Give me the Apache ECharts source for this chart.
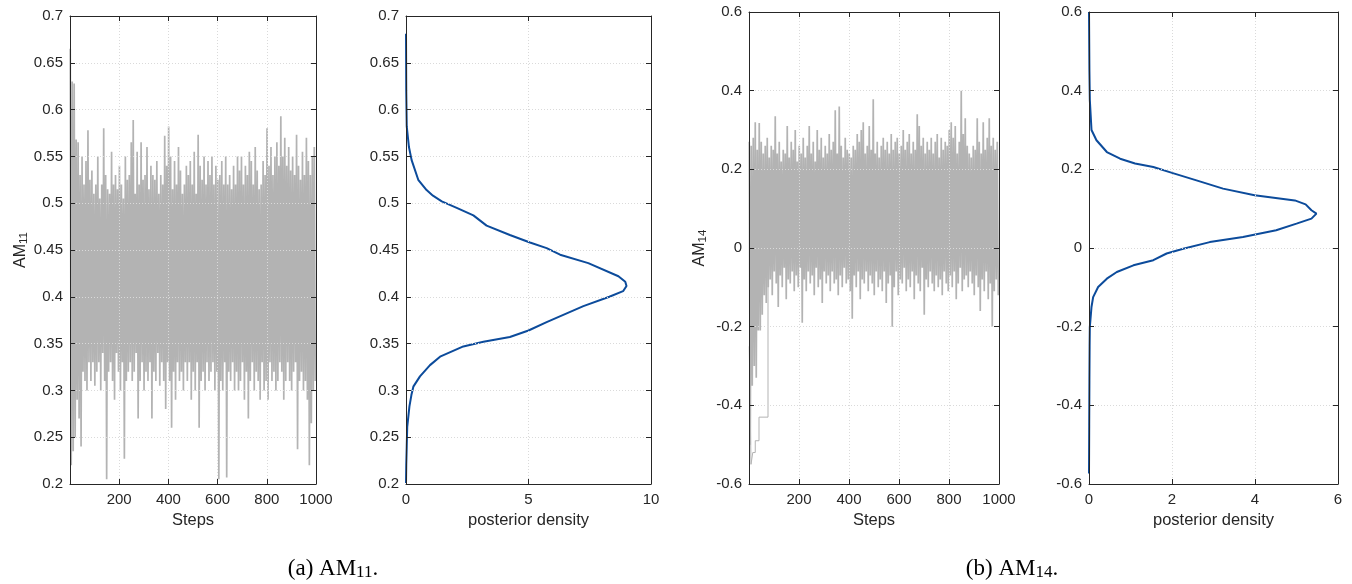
<!DOCTYPE html>
<html>
<head>
<meta charset="utf-8">
<script src="https://cdn.jsdelivr.net/npm/echarts@6/dist/echarts.min.js"></script>
<style>
html,body{margin:0;padding:0;background:#fff;}
#chart{width:1352px;height:584px;}
</style>
</head>
<body>
<div id="chart"></div>
<script>
// ---- data ----
// MCMC trace of AM11 (one sample every 4 steps)
const am11Trace = [
.665,.22,.63,.235,.628,.25,.568,.29,.565,.27,.53,.24,.55,.32,.52,.31,.545,.30,.578,.33,
.525,.31,.535,.33,.51,.305,.52,.32,.55,.33,.505,.30,.52,.34,.58,.31,.53,.205,.515,.32,
.51,.33,.555,.31,.52,.29,.53,.34,.515,.32,.54,.30,.52,.33,.505,.227,.55,.31,.525,.32,
.53,.33,.565,.31,.589,.32,.51,.34,.555,.27,.52,.31,.565,.33,.525,.30,.53,.32,.56,.31,
.515,.33,.54,.27,.53,.32,.525,.31,.545,.34,.51,.305,.53,.33,.52,.31,.572,.28,.54,.33,
.582,.31,.55,.26,.515,.32,.545,.29,.52,.33,.56,.31,.535,.32,.51,.30,.52,.33,.54,.31,
.53,.33,.545,.29,.52,.32,.555,.30,.51,.33,.573,.26,.54,.31,.525,.32,.55,.30,.52,.33,
.545,.31,.53,.32,.55,.33,.52,.30,.54,.32,.525,.205,.53,.31,.545,.30,.52,.33,.55,.207,
.52,.32,.53,.31,.515,.33,.54,.30,.52,.32,.55,.30,.535,.31,.55,.33,.52,.29,.54,.32,
.53,.27,.555,.31,.545,.33,.52,.30,.56,.32,.535,.31,.515,.29,.52,.33,.545,.30,.53,.31,
.58,.29,.54,.33,.56,.31,.53,.32,.55,.30,.565,.31,.54,.33,.593,.32,.55,.29,.57,.31,
.54,.33,.56,.31,.535,.30,.55,.32,.53,.33,.573,.237,.54,.31,.525,.32,.555,.30,.53,.31,
.57,.29,.545,.22,.53,.265,.55,.30,.56,.31
];
// MCMC trace of AM14 (one sample every 4 steps)
const am14Trace = [
.27,-.50,.26,-.35,.28,-.30,.32,-.33,.25,-.21,.318,-.21,.27,-.17,.24,-.12,.26,-.14,.28,-.10,
.23,-.08,.26,-.12,.25,-.06,.335,-.09,.24,-.15,.27,-.07,.22,-.10,.25,-.05,.24,-.13,.31,-.08,
.23,-.09,.27,-.06,.25,-.11,.30,-.07,.22,-.10,.26,-.05,.24,-.19,.28,-.08,.23,-.11,.26,-.06,
.31,-.09,.24,-.07,.27,-.12,.22,-.05,.30,-.10,.25,-.08,.28,-.14,.23,-.06,.26,-.09,.24,-.07,
.29,-.11,.25,-.06,.27,-.09,.35,-.08,.24,-.12,.36,-.07,.26,-.10,.23,-.05,.28,-.09,.25,-.08,
.24,-.11,.23,-.18,.26,-.07,.25,-.10,.29,-.06,.27,-.13,.30,-.08,.32,-.09,.24,-.06,.26,-.11,
.31,-.07,.25,-.09,.378,-.12,.24,-.06,.27,-.10,.23,-.08,.26,-.11,.28,-.06,.25,-.14,.27,-.09,
.24,-.07,.29,-.20,.25,-.10,.27,-.06,.28,-.12,.24,-.08,.26,-.09,.30,-.05,.25,-.11,.27,-.08,
.29,-.10,.24,-.06,.27,-.13,.25,-.07,.34,-.09,.31,-.11,.26,-.05,.28,-.17,.24,-.08,.27,-.10,
.25,-.06,.28,-.09,.24,-.11,.27,-.07,.29,-.10,.23,-.08,.28,-.12,.25,-.06,.27,-.09,.26,-.11,
.30,-.07,.32,-.10,.28,-.06,.31,-.13,.24,-.09,.27,-.05,.40,-.11,.29,-.08,.33,-.07,.26,-.10,
.24,-.06,.23,-.09,.26,-.12,.25,-.07,.33,-.10,.27,-.16,.24,-.08,.32,-.11,.25,-.06,.28,-.13,
.33,-.09,.26,-.20,.28,-.11,.25,-.08,.27,-.12
];
// burn-in chain of AM14 (stuck low at the start)
const am14BurnSteps = [1, 8, 15, 25, 40, 76];
const am14BurnVals  = [-0.25, -0.55, -0.52, -0.49, -0.43, -0.06];

// posterior densities: parameter value and density
const am11DensY = [0.201,0.22,0.24,0.261,0.283,0.295,0.304,0.315,0.327,0.336,0.347,0.352,0.357,0.364,0.373,0.39,0.40,0.406,0.4115,0.416,0.422,0.436,0.445,0.452,0.458,0.466,0.476,0.487,0.495,0.502,0.508,0.514,0.525,0.546,0.56,0.582,0.62,0.681];
const am11DensX = [0,0.01,0.03,0.05,0.14,0.22,0.30,0.57,0.98,1.39,2.34,3.16,4.24,5.0,5.74,7.24,8.3,8.86,9.0,8.95,8.67,7.44,6.29,5.74,5.06,4.24,3.29,2.75,2.07,1.46,1.1,0.84,0.5,0.23,0.12,0.03,0.01,0];
const am14DensY = [-0.573,-0.45,-0.337,-0.25,-0.201,-0.175,-0.15,-0.125,-0.099,-0.078,-0.061,-0.044,-0.031,-0.014,-0.002,0.015,0.028,0.045,0.062,0.0747,0.0875,0.096,0.111,0.121,0.134,0.151,0.172,0.191,0.206,0.215,0.227,0.244,0.274,0.30,0.376,0.45,0.6];
const am14DensX = [0,0.005,0.01,0.015,0.02,0.04,0.06,0.10,0.22,0.43,0.67,1.07,1.55,1.87,2.27,2.91,3.71,4.51,5.0,5.36,5.48,5.36,5.22,4.96,3.99,3.23,2.59,2.0,1.55,1.11,0.75,0.43,0.18,0.06,0.02,0.01,0];

const stepLabel = 'Steps';
const densLabel = 'posterior density';

// ---- chart ----
const FONT = 'Liberation Sans';
const TXT = '#262626';
const stepOf = i => 1 + 4 * i;   // sample index -> MCMC step

const grids = [
  {left: 70,   top: 16, width: 246, height: 468},
  {left: 406,  top: 16, width: 245, height: 468},
  {left: 749,  top: 12, width: 250, height: 472},
  {left: 1089, top: 12, width: 249, height: 472}
];

const axLine = {show: true, onZero: false, lineStyle: {color: TXT, width: 1}};
const axTick = {show: true, inside: true, length: 5, lineStyle: {color: TXT, width: 1}};
const split = {show: true, lineStyle: {color: '#dadada', width: 1, type: [1, 2]}};
const lab = (m, f) => ({show: true, color: TXT, fontFamily: FONT, fontSize: 15, margin: m, formatter: f});

function xPair(g, min, max, interval, name, fmt) {
  return [
    {type: 'value', gridIndex: g, min, max, interval, position: 'bottom', z: 5,
     axisLine: axLine, axisTick: axTick, axisLabel: lab(8, fmt), splitLine: split,
     name, nameLocation: 'middle', nameGap: 26,
     nameTextStyle: {color: TXT, fontFamily: FONT, fontSize: 16.5}},
    {type: 'value', gridIndex: g, min, max, interval, position: 'top', z: 5,
     axisLine: axLine, axisTick: axTick, axisLabel: {show: false}, splitLine: {show: false}}
  ];
}
function yPair(g, min, max, interval, sub, gap) {
  const main = {type: 'value', gridIndex: g, min, max, interval, position: 'left', z: 5,
     axisLine: axLine, axisTick: axTick, axisLabel: lab(7), splitLine: split};
  if (sub) {
    main.name = '{a|AM}{s|' + sub + '}';
    main.nameLocation = 'middle';
    main.nameGap = gap;
    main.nameTextStyle = {color: TXT, fontFamily: FONT, fontSize: 16,
      rich: {a: {color: TXT, fontFamily: FONT, fontSize: 16},
             s: {color: TXT, fontFamily: FONT, fontSize: 11.5, padding: [7, 0, 0, 0]}}};
  }
  return [main,
    {type: 'value', gridIndex: g, min, max, interval, position: 'right', z: 5,
     axisLine: axLine, axisTick: axTick, axisLabel: {show: false}, splitLine: {show: false}}];
}

const hideZero = v => (v === 0 ? '' : String(v));

const xAxis = [].concat(
  xPair(0, 0, 1000, 200, stepLabel, hideZero),
  xPair(1, 0, 10, 5, densLabel),
  xPair(2, 0, 1000, 200, stepLabel, hideZero),
  xPair(3, 0, 6, 2, densLabel)
);
const yAxis = [].concat(
  yPair(0, 0.2, 0.7, 0.05, '11', 37),
  yPair(1, 0.2, 0.7, 0.05),
  yPair(2, -0.6, 0.6, 0.2, '14', 40),
  yPair(3, -0.6, 0.6, 0.2)
);

const GRAY = '#b3b3b3';
const BLUE = '#0c4b9b';
const traceSeries = (vals, ax) => ({
  type: 'line', xAxisIndex: ax, yAxisIndex: ax, step: 'end', showSymbol: false, symbol: 'none',
  data: vals.map((v, i) => [stepOf(i), v]), lineStyle: {color: GRAY, width: 1.7}, z: 2, silent: true
});
const densSeries = (xs, ys, ax) => ({
  type: 'line', xAxisIndex: ax, yAxisIndex: ax, showSymbol: false, symbol: 'none',
  data: xs.map((d, i) => [d, ys[i]]), lineStyle: {color: BLUE, width: 2}, z: 2, silent: true
});

const series = [
  traceSeries(am11Trace, 0),
  densSeries(am11DensX, am11DensY, 2),
  traceSeries(am14Trace, 4),
  {type: 'line', xAxisIndex: 4, yAxisIndex: 4, step: 'end', showSymbol: false, symbol: 'none',
   data: am14BurnSteps.map((s, i) => [s, am14BurnVals[i]]), lineStyle: {color: GRAY, width: 1}, z: 2, silent: true},
  densSeries(am14DensX, am14DensY, 6)
];

const capRich = {
  t: {fontFamily: 'Liberation Serif', fontSize: 23, fill: '#000'},
  s: {fontFamily: 'Liberation Serif', fontSize: 17, fill: '#000', padding: [8, 0, 0, 0]}
};

const chart = echarts.init(document.getElementById('chart'), null, {renderer: 'canvas'});
chart.setOption({
  animation: false,
  backgroundColor: '#fff',
  grid: grids,
  xAxis, yAxis, series,
  graphic: [
    {type: 'text', x: 333, y: 569, style: {text: '{t|(a) AM}{s|11}{t|.}', rich: capRich, align: 'center', verticalAlign: 'middle'}},
    {type: 'text', x: 1012, y: 569, style: {text: '{t|(b) AM}{s|14}{t|.}', rich: capRich, align: 'center', verticalAlign: 'middle'}}
  ]
});
</script>
</body>
</html>
